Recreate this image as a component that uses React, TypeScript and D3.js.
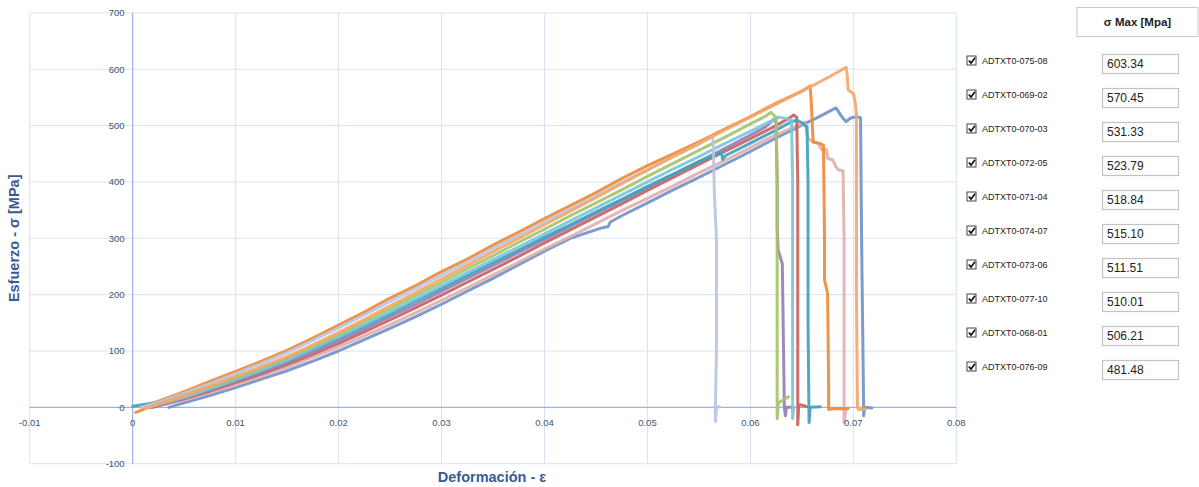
import React from "react";
import * as d3 from "d3";

type P = [number, number];

const xTicks = [-0.01, 0, 0.01, 0.02, 0.03, 0.04, 0.05, 0.06, 0.07, 0.08];
const xTickLabels = ["-0.01", "0", "0.01", "0.02", "0.03", "0.04", "0.05", "0.06", "0.07", "0.08"];
const yTicks = [-100, 0, 100, 200, 300, 400, 500, 600, 700];
const yTickLabels = ["-100", "0", "100", "200", "300", "400", "500", "600", "700"];

const sampleNames = [
  "ADTXT0-075-08", "ADTXT0-069-02", "ADTXT0-070-03", "ADTXT0-072-05", "ADTXT0-071-04",
  "ADTXT0-074-07", "ADTXT0-073-06", "ADTXT0-077-10", "ADTXT0-068-01", "ADTXT0-076-09",
];
const sigmaMax = ["603.34", "570.45", "531.33", "523.79", "518.84", "515.10", "511.51", "510.01", "506.21", "481.48"];

const s070_03: P[] = [[0.0035,0],[0.005,8],[0.0075,21],[0.01,35],[0.0125,50],[0.015,65],[0.0175,82],[0.02,100],[0.0225,120],[0.025,140],[0.0275,161],[0.03,183],[0.0325,206],[0.035,229],[0.0375,253],[0.04,277],[0.0425,300],[0.0455,318],[0.0462,321],[0.0464,329],[0.0475,340],[0.05,363],[0.0525,386],[0.055,408],[0.0575,431],[0.06,454],[0.0625,478],[0.065,501],[0.0667,516],[0.0683,531.33],[0.069,513],[0.0693,507],[0.0697,513],[0.0703,516],[0.0707,514],[0.0708,300],[0.071,0],[0.071,-15],[0.0711,0],[0.0718,-1]];
const s068_01: P[] = [[0.0015,0],[0.0025,3],[0.005,13],[0.0075,26],[0.01,40],[0.0125,55],[0.015,71],[0.0175,89],[0.02,107],[0.0225,127],[0.025,147],[0.0275,168],[0.03,190],[0.0325,212],[0.035,235],[0.0375,258],[0.04,281],[0.0425,303],[0.045,326],[0.0475,349],[0.05,371],[0.0525,393],[0.055,416],[0.0575,438],[0.06,461],[0.0625,484],[0.065,503],[0.0653,506.21],[0.0656,477],[0.0661,471],[0.0666,468],[0.0669,457],[0.0674,457],[0.0675,442],[0.068,439],[0.0683,427],[0.0686,421],[0.069,420],[0.0691,300],[0.0691,0],[0.0691,-27],[0.0693,-2]];
const s071_04: P[] = [[0.0018,0],[0.0025,3],[0.005,15],[0.0075,29],[0.01,44],[0.0125,59],[0.015,76],[0.0175,94],[0.02,113],[0.0225,134],[0.025,155],[0.0275,177],[0.03,199],[0.0325,222],[0.035,245],[0.0375,268],[0.04,292],[0.0425,315],[0.045,338],[0.0475,361],[0.05,385],[0.0525,408],[0.055,431],[0.0575,454],[0.06,477],[0.0625,500],[0.064,516],[0.0642,518.84],[0.0645,515],[0.0646,400],[0.0646,100],[0.0646,-31],[0.0647,5],[0.0652,3],[0.0655,1]];
const s073_06: P[] = [[0.002,0],[0.0025,3],[0.005,16],[0.0075,30],[0.01,46],[0.0125,62],[0.015,79],[0.0175,98],[0.02,118],[0.0225,139],[0.025,161],[0.0275,183],[0.03,206],[0.0325,229],[0.035,252],[0.0375,275],[0.04,298],[0.0425,321],[0.045,344],[0.0475,367],[0.05,390],[0.0525,413],[0.055,436],[0.0575,459],[0.06,483],[0.0615,498],[0.0623,511.51],[0.0625,505],[0.0626,400],[0.0626,320],[0.0627,279],[0.0631,255],[0.0633,0],[0.0634,-15],[0.0635,0],[0.0642,0]];
const s077_10: P[] = [[0,2],[0.0017,7],[0.0025,10],[0.005,21],[0.0075,35],[0.01,50],[0.0125,66],[0.015,84],[0.0175,103],[0.02,123],[0.0225,144],[0.025,166],[0.0275,189],[0.03,211],[0.0325,234],[0.035,257],[0.0375,279],[0.04,302],[0.0425,324],[0.045,347],[0.0475,369],[0.05,392],[0.0525,414],[0.055,436],[0.0572,452],[0.0573,440],[0.0576,447],[0.06,469],[0.0625,492],[0.0638,505],[0.0645,510.01],[0.065,505],[0.0655,498],[0.0656,400],[0.0656,150],[0.0657,-27],[0.0658,0],[0.0668,1]];
const s074_07: P[] = [[0.0012,0],[0.0025,5],[0.005,18],[0.0075,33],[0.01,49],[0.0125,66],[0.015,84],[0.0175,104],[0.02,125],[0.0225,147],[0.025,170],[0.0275,193],[0.03,216],[0.0325,239],[0.035,262],[0.0375,285],[0.04,308],[0.0425,331],[0.045,354],[0.0475,377],[0.05,400],[0.0525,423],[0.055,445],[0.0575,468],[0.06,490],[0.062,508],[0.0628,515.1],[0.0635,512],[0.064,510],[0.0641,400],[0.0641,100],[0.0641,-20],[0.0642,0]];
const s072_05: P[] = [[0.0015,0],[0.0025,6],[0.005,20],[0.0075,36],[0.01,53],[0.0125,70],[0.015,88],[0.0175,108],[0.02,129],[0.0225,152],[0.025,175],[0.0275,199],[0.03,222],[0.0325,246],[0.035,269],[0.0375,293],[0.04,316],[0.0425,340],[0.045,363],[0.0475,386],[0.05,410],[0.0525,433],[0.055,456],[0.0575,479],[0.06,503],[0.0615,517],[0.062,523.79],[0.0623,518],[0.0625,515],[0.0626,400],[0.0626,200],[0.0626,-5],[0.0626,-20],[0.0627,8],[0.0632,13],[0.0637,19]];
const s069_02: P[] = [[0.0003,-9],[0.001,-4],[0.0025,11],[0.005,28],[0.0075,46],[0.01,64],[0.0125,82],[0.015,101],[0.0175,123],[0.02,146],[0.0225,169],[0.025,194],[0.0275,216],[0.03,241],[0.0325,263],[0.035,288],[0.0375,311],[0.04,335],[0.0425,358],[0.045,381],[0.0475,406],[0.05,429],[0.0525,450],[0.055,471],[0.0575,494],[0.06,516],[0.0625,540],[0.065,561],[0.0658,570.45],[0.0659,545],[0.0661,471],[0.0668,468],[0.0671,465],[0.0672,300],[0.0672,226],[0.0675,202],[0.0676,40],[0.0676,-4],[0.068,-2],[0.0688,-3],[0.0695,-2]];
const s076_09: P[] = [[0.0008,0],[0.0025,9],[0.005,25],[0.0075,42],[0.01,60],[0.0125,78],[0.015,97],[0.0175,119],[0.02,141],[0.0225,164],[0.025,188],[0.0275,211],[0.03,235],[0.0325,258],[0.035,282],[0.0375,305],[0.04,329],[0.0425,352],[0.045,375],[0.0475,399],[0.05,422],[0.0525,445],[0.055,467],[0.0563,481.48],[0.0564,470],[0.0565,380],[0.0567,300],[0.0567,100],[0.0566,-5],[0.0566,-25],[0.0567,0],[0.057,1]];
const s075_08: P[] = [[0.0012,-2],[0.0025,6],[0.005,21],[0.0075,38],[0.01,55],[0.0125,72],[0.015,90],[0.0175,111],[0.02,133],[0.0225,156],[0.025,180],[0.0275,204],[0.03,228],[0.0325,252],[0.035,276],[0.0375,300],[0.04,324],[0.0425,348],[0.045,372],[0.0475,397],[0.05,421],[0.0525,445],[0.055,468],[0.0575,492],[0.06,515],[0.0625,538],[0.065,561],[0.0675,585],[0.0693,603.34],[0.0694,590],[0.0695,563],[0.07,557],[0.0702,540],[0.0703,520],[0.0703,200],[0.0704,0],[0.0705,-4],[0.0712,-3]];

const seriesList: { data: P[]; color: string }[] = [
  { data: s070_03, color: "#7393C9" },
  { data: s068_01, color: "#E0B0AE" },
  { data: s071_04, color: "#C9625F" },
  { data: s073_06, color: "#9580B5" },
  { data: s077_10, color: "#3FA3BE" },
  { data: s074_07, color: "#7CC5DB" },
  { data: s072_05, color: "#A5C46A" },
  { data: s069_02, color: "#EE8A3A" },
  { data: s076_09, color: "#B6C6E2" },
  { data: s075_08, color: "#F6A66B" },
];

export default function App() {
  const W = 1199, H = 487;
  const x = d3.scaleLinear().domain([-0.01, 0.08]).range([29.7, 956.3]);
  const y = d3.scaleLinear().domain([-100, 700]).range([463.7, 12.9]);
  const line = d3.line<P>().x((d) => x(d[0])).y((d) => y(d[1]));
  const tickFont = "'Liberation Sans', Arial, sans-serif";
  const tickColor = "#44546A";
  const titleColor = "#3A5A96";

  return (
    <svg width={W} height={H} style={{ position: "absolute", left: 0, top: 0, background: "#fff" }}>
      {xTicks.map((t) => (
        <line key={"gx" + t} x1={x(t)} x2={x(t)} y1={y(700)} y2={y(-100)} stroke="#D9E2F3" strokeWidth={1} />
      ))}
      {yTicks.map((t) => (
        <line key={"gy" + t} x1={x(-0.01)} x2={x(0.08)} y1={y(t)} y2={y(t)} stroke="#D9E2F3" strokeWidth={1} />
      ))}
      <line x1={x(0)} x2={x(0)} y1={y(700)} y2={y(-100)} stroke="#8FAADC" strokeWidth={1} />
      <line x1={x(-0.01)} x2={x(0.08)} y1={y(0)} y2={y(0)} stroke="#8FAADC" strokeWidth={1} />
      <g fill="none" strokeWidth={3} strokeLinejoin="round" strokeLinecap="round">
        {seriesList.map((s, i) => (
          <path key={i} d={line(s.data) || ""} stroke={s.color} strokeOpacity={0.92} />
        ))}
      </g>
      {yTicks.map((t, i) => (
        <text key={"yl" + t} x={x(0) - 8} y={y(t)} dy="0.35em" textAnchor="end" fontSize={9.5} fill={tickColor} fontFamily={tickFont}>
          {yTickLabels[i]}
        </text>
      ))}
      {xTicks.map((t, i) => (
        <text key={"xl" + t} x={x(t)} y={y(0) + 15} dy="0.35em" textAnchor="middle" fontSize={9.5} fill={tickColor} fontFamily={tickFont}>
          {xTickLabels[i]}
        </text>
      ))}
      <text transform={`translate(19,${(y(700) + y(-100)) / 2}) rotate(-90)`} textAnchor="middle" fontSize={14.5} fontWeight="bold" fill={titleColor} fontFamily={tickFont}>
        Esfuerzo - σ [MPa]
      </text>
      <text x={492} y={482} textAnchor="middle" fontSize={14.5} fontWeight="bold" fill={titleColor} fontFamily={tickFont}>
        Deformación - ε
      </text>
      <rect x={1077} y={7.5} width={121} height={29} fill="#fff" stroke="#C8C8C8" strokeWidth={1} />
      <text x={1137.5} y={22} dy="0.35em" textAnchor="middle" fontSize={11.5} fontWeight="bold" fill="#222" fontFamily={tickFont}>
        σ Max [Mpa]
      </text>
      {sampleNames.map((n, i) => {
        const cy = 60.5 + i * 34;
        return (
          <g key={n}>
            <rect x={967} y={cy - 4.5} width={9} height={9} fill="#fff" stroke="#444" strokeWidth={1} />
            <path d={`M968.8,${cy} L971,${cy + 2.6} L975,${cy - 2.8}`} fill="none" stroke="#111" strokeWidth={1.6} />
            <text x={982} y={cy} dy="0.35em" fontSize={9} fill="#222" fontFamily={tickFont}>
              {n}
            </text>
            <rect x={1102.5} y={cy - 6} width={76} height={19} fill="#fff" stroke="#C3C3C3" strokeWidth={1.2} />
            <text x={1107} y={cy + 3.5} dy="0.35em" fontSize={12} fill="#222" fontFamily={tickFont}>
              {sigmaMax[i]}
            </text>
          </g>
        );
      })}
    </svg>
  );
}
